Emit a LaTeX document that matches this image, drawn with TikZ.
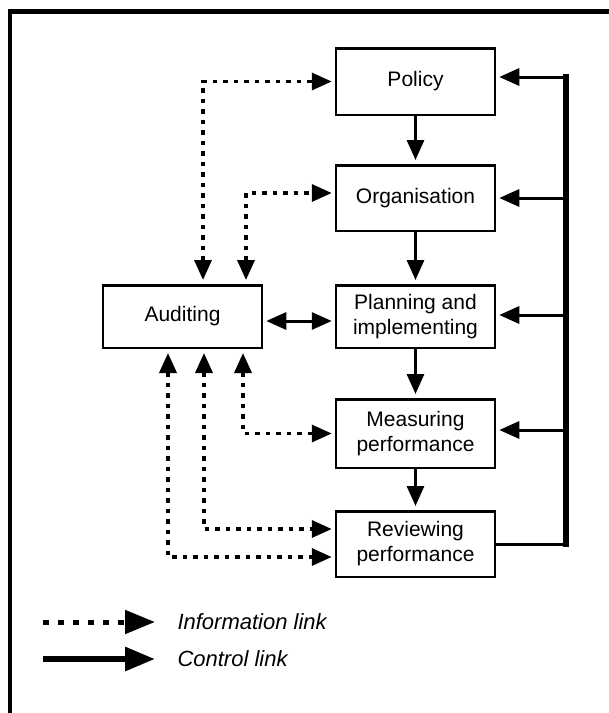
\documentclass[tikz,border=0pt]{standalone}
\usepackage{fontspec}
\setmainfont{Liberation Sans}
\usetikzlibrary{arrows.meta}

\begin{document}
\begin{tikzpicture}[x=1pt,y=-1pt,
    box/.style={draw,line width=2.5pt,minimum width=159pt,minimum height=66pt,
        inner sep=0pt,align=center,font=\fontsize{21}{25}\selectfont},
    ctrl/.style={line width=3pt,-{Triangle[length=20pt,width=17pt]},shorten >=3pt},
    info/.style={line width=3.5pt,dash pattern=on 4.5pt off 6pt,
        {Triangle[length=20pt,width=17pt]}-{Triangle[length=20pt,width=17pt]},
        shorten <=4pt,shorten >=3pt},
    legend/.style={anchor=west,font=\fontsize{22}{26}\selectfont\itshape}]
\useasboundingbox (0,0) rectangle (609,713);
% frame
\draw[line width=4.5pt] (10,713) -- (10,11.5) -- (609,11.5);
% boxes
\node[box,minimum height=66.5pt] (policy) at (415.5,81.5) {Policy};
\node[box,minimum height=65.5pt] (org) at (415.5,198) {Organisation};
\node[box,minimum height=62.5pt] (plan) at (415.5,316.5) {Planning and\\implementing};
\node[box,minimum height=68.5pt] (measure) at (415.5,433.5) {Measuring\\performance};
\node[box,minimum height=65.5pt] (review) at (415.5,544) {Reviewing\\performance};
\node[box,minimum height=62.5pt] (audit) at (182.5,316.5) {Auditing};
% control links
\draw[ctrl,shorten >=4pt] (policy) -- (org);
\draw[ctrl,shorten >=4pt] (org) -- (plan);
\draw[ctrl,shorten >=4pt] (plan) -- (measure);
\draw[ctrl,shorten >=4pt] (measure) -- (review);
\coordinate (bus) at (566,77);
\draw[line width=3pt] (review.east) -- (review.east -| bus);
\draw[line width=6.5pt,line cap=rect] (bus |- review.east) -- (bus);
\draw[ctrl] (bus) -- (bus -| policy.east);
\foreach \n/\s in {org/0,plan/1.5,measure/3.5}
    \draw[ctrl] ([yshift=\s pt]bus |- \n.east) -- ([yshift=\s pt]\n.east);
\draw[ctrl,shorten <=3pt,{Triangle[length=20pt,width=17pt]}-{Triangle[length=20pt,width=17pt]}]
    ([yshift=-4.5pt]audit.east) -- ([yshift=-4.5pt]plan.west);
% information links
\draw[info] ([xshift=20.5pt]audit.north) |- (policy.west);
\draw[info] ([xshift=63.5pt]audit.north) |- ([yshift=5pt]org.west);
\draw[info] ([xshift=60.5pt]audit.south) |- (measure.west);
\draw[info] ([xshift=21.5pt]audit.south) |- ([yshift=15pt]review.west);
\draw[info] ([xshift=-14.5pt]audit.south) |- ([yshift=-13pt]review.west);
% legend
\node[legend] (infotxt) at (174,622) {Information link};
\node[legend] (ctrltxt) at (174,659) {Control link};
\coordinate (infostart) at (43,622);
\coordinate (ctrlstart) at (43,659);
\draw[line width=5pt,dash pattern=on 6pt off 9pt,-{Triangle[length=30pt,width=23pt]},shorten >=19pt]
    (infostart) -- (infotxt.west);
\draw[line width=6pt,-{Triangle[length=30pt,width=23pt]},shorten >=19pt]
    (ctrlstart) -- (ctrltxt.west);
\end{tikzpicture}
\end{document}
